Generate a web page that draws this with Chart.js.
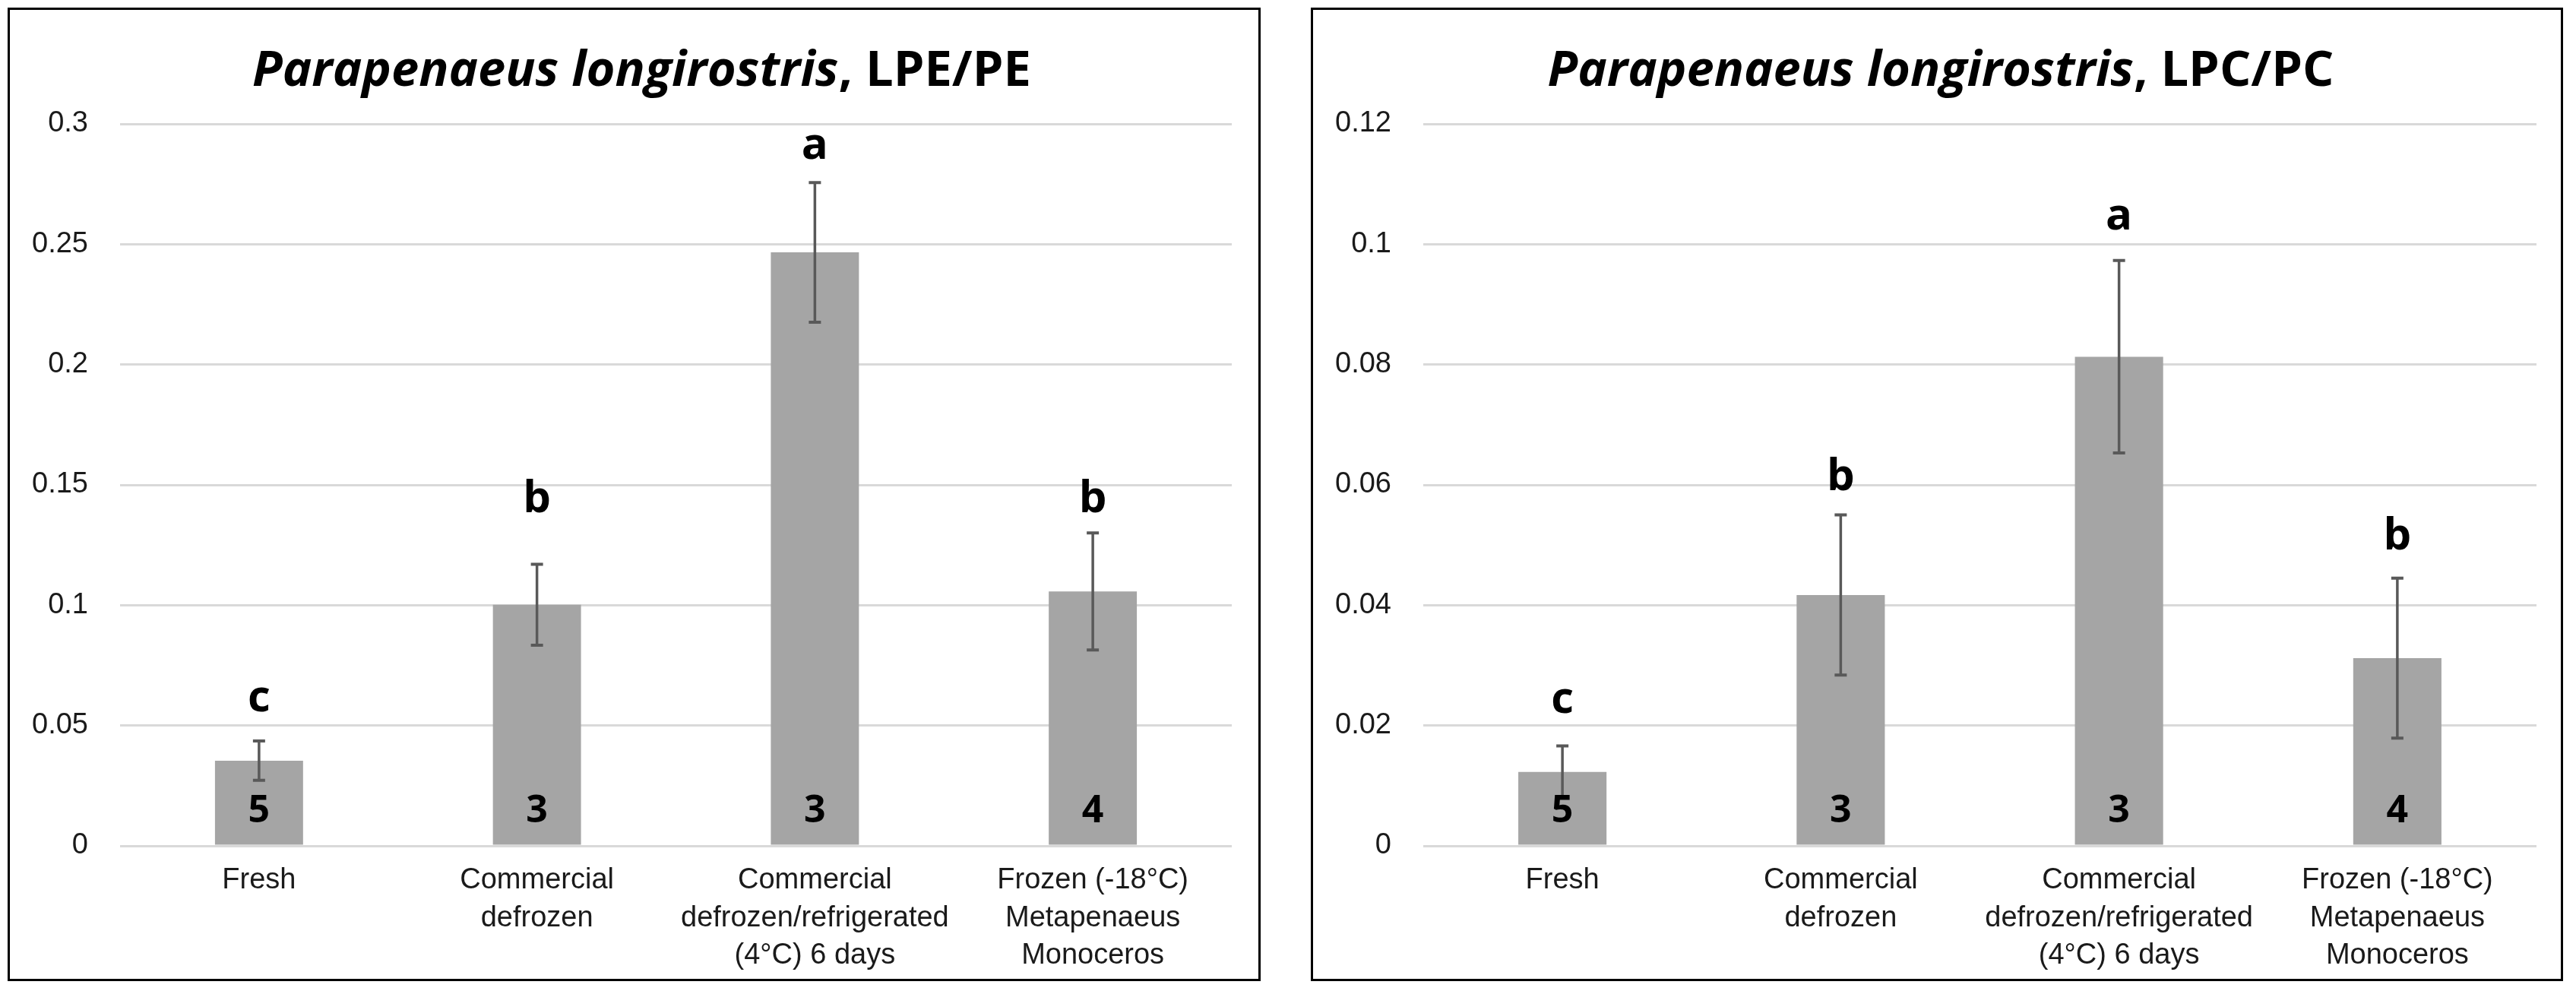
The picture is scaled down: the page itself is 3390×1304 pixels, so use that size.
<!DOCTYPE html>
<html>
<head>
<meta charset="utf-8">
<script src="https://cdn.jsdelivr.net/npm/chart.js@4.4.1/dist/chart.umd.min.js"></script>
<style>
  html, body { margin: 0; padding: 0; background: #fff; }
  body { width: 3390px; height: 1304px; position: relative; overflow: hidden; }
  .box { position: absolute; top: 10px; height: 1281px; border: 3px solid #000; box-sizing: border-box; background: #fff; }
  .box canvas { position: absolute; left: 0; top: 0; }
</style>
</head>
<body>
<div class="box" style="left:10px;width:1649px;"><canvas id="pe" width="1643" height="1275"></canvas></div>
<div class="box" style="left:1725px;width:1648px;"><canvas id="pc" width="1642" height="1275"></canvas></div>
<script>
const categories = [
  'Fresh',
  ['Commercial', 'defrozen'],
  ['Commercial', 'defrozen/refrigerated', '(4°C) 6 days'],
  ['Frozen (-18°C)', 'Metapenaeus', 'Monoceros']
];
const sampleSizes = ['5', '3', '3', '4'];

// LPE/PE
const peValues = [0.0354, 0.1002, 0.2466, 0.1057];
const peErrors = [0.0082, 0.0168, 0.029, 0.0243];
const peLetters = ['c', 'b', 'a', 'b'];
const peLetterAt = [0.0611, 0.1437, 0.2907, 0.1437];

// LPC/PC
const pcValues = [0.0123, 0.0417, 0.0813, 0.0312];
const pcErrors = [0.0043, 0.0133, 0.016, 0.0133];
const pcLetters = ['c', 'b', 'a', 'b'];
const pcLetterAt = [0.0242, 0.0612, 0.1045, 0.0514];

const tickFont = { family: '"Liberation Sans", Arial, sans-serif', size: 38 };
const tickColor = '#1a1a1a';

const annotate = {
  id: 'annotate',
  afterDatasetsDraw(chart, args, opts) {
    const ctx = chart.ctx;
    const meta = chart.getDatasetMeta(0);
    const y = chart.scales.y;
    ctx.save();
    // error bars
    ctx.strokeStyle = '#595959';
    meta.data.forEach((bar, i) => {
      const v = opts.values[i], e = opts.errors[i];
      const top = y.getPixelForValue(v + e), bot = y.getPixelForValue(v - e);
      ctx.lineWidth = 3.5;
      ctx.beginPath(); ctx.moveTo(bar.x, top); ctx.lineTo(bar.x, bot); ctx.stroke();
      ctx.lineWidth = 4;
      ctx.beginPath();
      ctx.moveTo(bar.x - 8, top); ctx.lineTo(bar.x + 8, top);
      ctx.moveTo(bar.x - 8, bot); ctx.lineTo(bar.x + 8, bot);
      ctx.stroke();
    });
    // letters and sample sizes
    ctx.fillStyle = '#000';
    ctx.textAlign = 'center';
    ctx.textBaseline = 'middle';
    meta.data.forEach((bar, i) => {
      ctx.font = 'bold 58px "Open Sans", sans-serif';
      ctx.fillText(opts.letters[i], bar.x, y.getPixelForValue(opts.letterAt[i]));
      ctx.font = 'bold 50px "Open Sans", sans-serif';
      ctx.fillText(sampleSizes[i], bar.x, y.getPixelForValue(0) - 45);
    });
    // title
    const a = 'Parapenaeus longirostris', b = ', ' + opts.suffix;
    ctx.font = 'italic bold 65px "Open Sans", sans-serif';
    const wa = ctx.measureText(a).width;
    ctx.font = 'bold 65px "Open Sans", sans-serif';
    const wb = ctx.measureText(b).width;
    const x0 = chart.width / 2 + opts.shift - (wa + wb) / 2;
    ctx.textAlign = 'left';
    ctx.font = 'italic bold 65px "Open Sans", sans-serif';
    ctx.fillText(a, x0, 81);
    ctx.font = 'bold 65px "Open Sans", sans-serif';
    ctx.fillText(b, x0 + wa, 81);
    ctx.restore();
  }
};

function makeChart(id, values, errors, letters, letterAt, max, step, suffix, padRight, shift) {
  return new Chart(document.getElementById(id), {
    type: 'bar',
    data: {
      labels: categories,
      datasets: [{
        data: values,
        backgroundColor: '#a5a5a5',
        categoryPercentage: 1,
        barPercentage: 0.317
      }]
    },
    options: {
      responsive: false,
      animation: false,
      devicePixelRatio: 1,
      layout: { padding: { left: 0, right: padRight, top: 150, bottom: 0 } },
      plugins: {
        legend: { display: false },
        title: { display: false },
        tooltip: { enabled: false },
        annotate: { values, errors, letters, letterAt, suffix, shift }
      },
      scales: {
        x: {
          grid: { display: false, drawTicks: false },
          border: { display: false },
          ticks: { font: { ...tickFont, lineHeight: 1.3 }, color: tickColor, padding: 21, maxRotation: 0, autoSkip: false },
          afterFit: s => { s.height = 175; }
        },
        y: {
          min: 0,
          max: max,
          grid: { color: '#d9d9d9', lineWidth: 3, drawTicks: false },
          border: { display: false },
          ticks: {
            stepSize: step,
            padding: 42,
            font: tickFont,
            color: tickColor,
            callback: v => String(Math.round(v * 10000) / 10000)
          },
          afterFit: s => { s.width = 145; }
        }
      }
    },
    plugins: [annotate]
  });
}

makeChart('pe', peValues, peErrors, peLetters, peLetterAt, 0.3, 0.05, 'LPE/PE', 35, 10);
makeChart('pc', pcValues, pcErrors, pcLetters, pcLetterAt, 0.12, 0.02, 'LPC/PC', 32, 5);
</script>
</body>
</html>
